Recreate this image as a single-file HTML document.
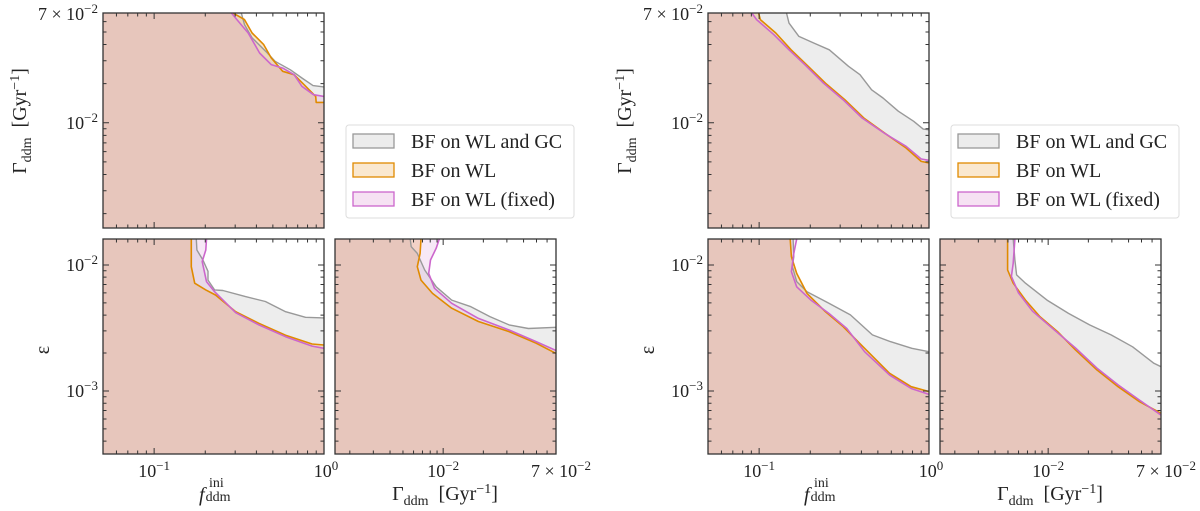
<!DOCTYPE html>
<html><head><meta charset="utf-8">
<style>
html,body{margin:0;padding:0;background:#fff;width:1200px;height:511px;overflow:hidden}
svg{display:block;font-family:"Liberation Serif",serif}
</style></head>
<body>
<svg id="fig" width="1200" height="511" viewBox="0 0 1200 511" xmlns="http://www.w3.org/2000/svg"></svg>
<script>
// Values are log10 of the plotted quantities
const L_TL_grayX=[-0.487,-0.468,-0.423,-0.333,-0.288,-0.198,-0.130,-0.065,0];
const L_TL_grayY=[-1.155,-1.244,-1.347,-1.463,-1.527,-1.592,-1.655,-1.714,-1.724];
const L_TL_orX=[-0.536,-0.468,-0.423,-0.355,-0.311,-0.243,-0.176,-0.108,-0.049,-0.046,0];
const L_TL_orY=[-1.155,-1.206,-1.309,-1.398,-1.501,-1.604,-1.630,-1.719,-1.797,-1.843,-1.843];
const L_TL_pkX=[-0.545,-0.513,-0.446,-0.379,-0.311,-0.243,-0.176,-0.130,-0.062,0];
const L_TL_pkY=[-1.155,-1.206,-1.309,-1.463,-1.552,-1.579,-1.630,-1.719,-1.784,-1.797];
const L_BL_grayX=[-0.752,-0.748,-0.713,-0.683,-0.683,-0.644,-0.595,-0.462,-0.345,-0.226,-0.109,0];
const L_BL_grayY=[-1.794,-1.881,-1.961,-2.050,-2.120,-2.198,-2.203,-2.251,-2.290,-2.371,-2.415,-2.420];
const L_BL_orX=[-0.781,-0.781,-0.761,-0.696,-0.639,-0.520,-0.383,-0.226,-0.070,0];
const L_BL_orY=[-1.794,-2.014,-2.145,-2.198,-2.238,-2.371,-2.463,-2.557,-2.627,-2.635];
const L_BL_pkX=[-0.692,-0.696,-0.717,-0.692,-0.644,-0.520,-0.383,-0.226,-0.070,0];
const L_BL_pkY=[-1.794,-1.881,-1.973,-2.132,-2.212,-2.379,-2.476,-2.569,-2.644,-2.661];
const L_BR_grayX=[-2.247,-2.239,-2.194,-2.138,-2.052,-1.936,-1.792,-1.650,-1.506,-1.362,-1.155];
const L_BR_grayY=[-1.794,-1.855,-1.908,-2.040,-2.173,-2.279,-2.331,-2.410,-2.476,-2.504,-2.495];
const L_BR_orX=[-2.166,-2.173,-2.194,-2.166,-2.080,-1.936,-1.736,-1.506,-1.304,-1.155];
const L_BR_orY=[-1.794,-1.908,-2.014,-2.120,-2.226,-2.343,-2.449,-2.529,-2.621,-2.702];
const L_BR_pkX=[-2.029,-2.052,-2.095,-2.108,-2.065,-1.936,-1.736,-1.506,-1.304,-1.155];
const L_BR_pkY=[-1.794,-1.867,-1.961,-2.067,-2.185,-2.304,-2.424,-2.516,-2.608,-2.679];
const R_TL_grayX=[-0.839,-0.824,-0.766,-0.677,-0.587,-0.474,-0.406,-0.338,-0.271,-0.181,-0.090,-0.034,0];
const R_TL_grayY=[-1.155,-1.233,-1.335,-1.387,-1.438,-1.565,-1.630,-1.746,-1.809,-1.911,-1.989,-2.049,-2.054];
const R_TL_orX=[-1.003,-0.993,-0.902,-0.812,-0.722,-0.609,-0.496,-0.384,-0.248,-0.135,-0.046,0];
const R_TL_orY=[-1.155,-1.206,-1.309,-1.438,-1.552,-1.695,-1.822,-1.963,-2.092,-2.194,-2.297,-2.310];
const R_TL_pkX=[-1.043,-1.015,-0.913,-0.824,-0.732,-0.621,-0.507,-0.394,-0.259,-0.135,-0.046,0];
const R_TL_pkY=[-1.155,-1.206,-1.322,-1.438,-1.552,-1.695,-1.822,-1.963,-2.083,-2.181,-2.279,-2.289];
const R_BL_grayX=[-0.800,-0.796,-0.804,-0.779,-0.718,-0.589,-0.463,-0.333,-0.228,-0.101,0];
const R_BL_grayY=[-1.794,-1.934,-2.014,-2.132,-2.212,-2.304,-2.396,-2.555,-2.608,-2.661,-2.688];
const R_BL_orX=[-0.817,-0.810,-0.779,-0.718,-0.610,-0.505,-0.379,-0.232,-0.105,0];
const R_BL_orY=[-1.794,-1.934,-2.067,-2.226,-2.371,-2.490,-2.661,-2.860,-2.966,-3.005];
const R_BL_pkX=[-0.779,-0.796,-0.810,-0.779,-0.695,-0.589,-0.484,-0.379,-0.232,-0.105,0];
const R_BL_pkY=[-1.794,-1.908,-2.053,-2.173,-2.279,-2.384,-2.504,-2.688,-2.874,-2.980,-3.027];
const R_BR_grayX=[-2.262,-2.249,-2.236,-2.170,-2.009,-1.848,-1.690,-1.529,-1.368,-1.208,-1.155];
const R_BR_grayY=[-1.794,-1.961,-2.079,-2.145,-2.279,-2.384,-2.476,-2.555,-2.649,-2.780,-2.807];
const R_BR_orX=[-2.304,-2.304,-2.262,-2.170,-2.062,-1.930,-1.795,-1.635,-1.476,-1.316,-1.155];
const R_BR_orY=[-1.794,-2.040,-2.145,-2.279,-2.410,-2.529,-2.674,-2.833,-2.966,-3.085,-3.177];
const R_BR_pkX=[-2.249,-2.262,-2.275,-2.222,-2.117,-1.956,-1.795,-1.635,-1.476,-1.316,-1.155];
const R_BR_pkY=[-1.794,-1.987,-2.091,-2.222,-2.367,-2.514,-2.659,-2.818,-2.952,-3.072,-3.191];

const F_RANGE=[-1.301,0], G_RANGE=[-2.81,-1.155], E_RANGE=[-3.5,-1.794];
const legendLabels=["BF on WL and GC","BF on WL","BF on WL (fixed)"];

const NS="http://www.w3.org/2000/svg";
const svg=document.getElementById('fig');
function mk(tag,attrs,parent){const e=document.createElementNS(NS,tag);for(const k in attrs)e.setAttribute(k,attrs[k]);(parent||svg).appendChild(e);return e;}
const STY=[
 {fill:"rgba(195,195,195,0.3)",stroke:"#999999",w:1.4},
 {fill:"rgba(235,165,70,0.3)",stroke:"#e08a00",w:1.6},
 {fill:"rgba(210,120,200,0.17)",stroke:"#cc66cc",w:1.6}];

function panel(name,x0,y0,w,h,xr,yr,series){
  const g=mk('g',{});
  
  
  const sx=v=>x0+(v-xr[0])/(xr[1]-xr[0])*w;
  const sy=v=>y0+(yr[1]-v)/(yr[1]-yr[0])*h;
  const cid='clip-'+name;
  const cp=mk('clipPath',{id:cid},g);mk('rect',{x:x0,y:y0,width:w,height:h},cp);
  const sNames=['gray','orange','pink'];
  series.forEach((s,i)=>{
    const pts=s[0].map((v,j)=>sx(v).toFixed(1)+','+sy(s[1][j]).toFixed(1));
    const fillPts=pts.concat([sx(xr[1])+','+sy(yr[0]),sx(xr[0])+','+sy(yr[0]),sx(xr[0])+','+sy(yr[1])]);
    const p=mk('polygon',{points:fillPts.join(' '),fill:STY[i].fill,'clip-path':'url(#'+cid+')'},g);
    
    
  });
  series.forEach((s,i)=>{
    const pts=s[0].map((v,j)=>sx(v).toFixed(1)+','+sy(s[1][j]).toFixed(1));
    const l=mk('polyline',{points:pts.join(' '),fill:'none',stroke:STY[i].stroke,'stroke-width':STY[i].w,'stroke-linejoin':'round','clip-path':'url(#'+cid+')'},g);
    
    
  });
  const tk=[];
  function logTicks(r,f){for(let n=Math.floor(r[0]);n<=Math.ceil(r[1]);n++)for(let k=1;k<10;k++){const v=n+Math.log10(k);if(v>=r[0]-1e-6&&v<=r[1]+1e-6)f(v,k===1);}}
  logTicks(xr,(v,maj)=>{const X=sx(v),L=maj?6:3.5;tk.push(`M${X},${y0+h}v${-L}M${X},${y0}v${L}`);});
  logTicks(yr,(v,maj)=>{const Y=sy(v),L=maj?6:3.5;tk.push(`M${x0},${Y}h${L}M${x0+w},${Y}h${-L}`);});
  mk('path',{d:tk.join(''),stroke:'#333',fill:'none','stroke-width':1},g);
  const fr=mk('rect',{x:x0,y:y0,width:w,height:h,fill:'none',stroke:'#333','stroke-width':1.3},g);
  
  
  return {sx,sy};
}
function tlabel(x,y,base,exp,anchor,name){
  const t=mk('text',{x:x,y:y,'font-size':18,'text-anchor':anchor||'middle',fill:'#222'});
  
  
  const a=mk('tspan',{},t);a.textContent=base;
  const b=mk('tspan',{dy:-7,'font-size':13},t);b.textContent=exp;
  return t;
}
function gammaLabel(x,y,rot,name){
  const t=mk('text',{x:x,y:y,'font-size':20,'text-anchor':'middle',fill:'#222',transform:rot?`rotate(-90 ${x} ${y})`:''});
  
  
  const a=mk('tspan',{},t);a.textContent='Γ';
  const b=mk('tspan',{dy:5,'font-size':14},t);b.textContent='ddm';
  const c=mk('tspan',{dy:-5},t);c.textContent='\u2002[Gyr';
  const d=mk('tspan',{dy:-7,'font-size':14},t);d.textContent='−1';
  const e=mk('tspan',{dy:7},t);e.textContent=']';
}
function figure(off,prefix,TL,BL,BR){
  const W=221,H=215;
  const a=panel(prefix+'-top-panel',103+off,13,W,H,F_RANGE,G_RANGE,TL);
  const b=panel(prefix+'-bottom-left-panel',103+off,239,W,H,F_RANGE,E_RANGE,BL);
  const c=panel(prefix+'-bottom-right-panel',335+off,239,W,H,G_RANGE,E_RANGE,BR);
  tlabel(98+off,a.sy(G_RANGE[1])+7,'7 × 10','−2','end','y-tick-7e-2');
  tlabel(98+off,a.sy(-2)+6,'10','−2','end','y-tick-1e-2');
  tlabel(98+off,b.sy(-2)+6,'10','−2','end','y-tick-eps-1e-2');
  tlabel(98+off,b.sy(-3)+6,'10','−3','end','y-tick-eps-1e-3');
  tlabel(b.sx(-1),477,'10','−1','middle','x-tick-0.1');
  tlabel(b.sx(0)+2,477,'10','0','middle','x-tick-1');
  tlabel(c.sx(-2),477,'10','−2','middle','x-tick-gamma-1e-2');
  tlabel(c.sx(G_RANGE[1])+5,477,'7 × 10','−2','middle','x-tick-gamma-7e-2');
  gammaLabel(26+off,121,true,prefix+'-y-axis-title-gamma');
  const eps=mk('text',{x:49+off,y:350,'font-size':20,'text-anchor':'middle',fill:'#222',transform:`rotate(-90 ${49+off} 350)`});
  
  
  eps.textContent='ε';
  const f=mk('text',{x:199+off,y:501,'font-size':20,'font-style':'italic',fill:'#222'});
  
  
  const f1=mk('tspan',{},f);f1.textContent='f';
  const f2=mk('tspan',{dy:0,'font-size':14,'font-style':'normal',dx:1},f);f2.textContent='ddm';
  const f3=mk('tspan',{x:209+off,y:487,'font-size':14,'font-style':'normal'},f);f3.textContent='ini';
  gammaLabel(445+off,500,false,prefix+'-x-axis-title-gamma');
  const lg=mk('g',{});
  
  
  mk('rect',{x:346+off,y:125,width:228,height:93,rx:3,fill:'#fff',stroke:'#dddddd','stroke-width':1},lg);
  legendLabels.forEach((lab,i)=>{
    const yc=141+i*29;
    const r=mk('rect',{x:353+off,y:yc-7,width:41,height:14,fill:['#ececec','#fae8cf','#f6e2f3'][i],stroke:STY[i].stroke,'stroke-width':1.3},lg);
    
    
    const t=mk('text',{x:411+off,y:yc+7,'font-size':20,fill:'#222'},lg);
    
    
    t.textContent=lab;
  });
}
figure(0,'left',
 [[L_TL_grayX,L_TL_grayY],[L_TL_orX,L_TL_orY],[L_TL_pkX,L_TL_pkY]],
 [[L_BL_grayX,L_BL_grayY],[L_BL_orX,L_BL_orY],[L_BL_pkX,L_BL_pkY]],
 [[L_BR_grayX,L_BR_grayY],[L_BR_orX,L_BR_orY],[L_BR_pkX,L_BR_pkY]]);
figure(605,'right',
 [[R_TL_grayX,R_TL_grayY],[R_TL_orX,R_TL_orY],[R_TL_pkX,R_TL_pkY]],
 [[R_BL_grayX,R_BL_grayY],[R_BL_orX,R_BL_orY],[R_BL_pkX,R_BL_pkY]],
 [[R_BR_grayX,R_BR_grayY],[R_BR_orX,R_BR_orY],[R_BR_pkX,R_BR_pkY]]);
</script>
</body></html>
